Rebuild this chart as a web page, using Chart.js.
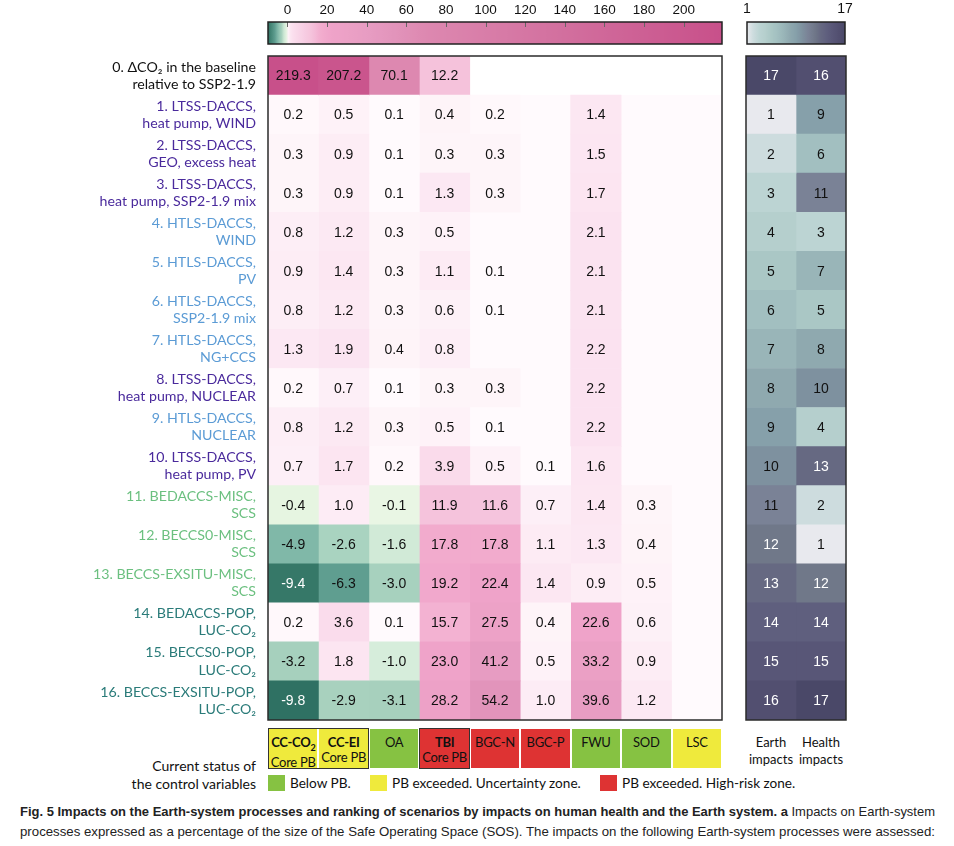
<!DOCTYPE html>
<html><head><meta charset="utf-8">
<script src="https://cdn.jsdelivr.net/npm/chart.js@4.4.1/dist/chart.umd.min.js"></script>
<style>
html,body{margin:0;padding:0;background:#fff;}
body{width:954px;height:846px;position:relative;overflow:hidden;font-family:Lato,"Noto Sans",sans-serif;color:#111;}
.abs{position:absolute;}
.box{position:absolute;box-sizing:border-box;text-align:center;font-size:13px;letter-spacing:-0.3px;line-height:15px;padding-top:6px;color:#111;white-space:nowrap;}
.core{position:absolute;box-sizing:border-box;border:1.5px solid #333;}
.leg{position:absolute;font-size:14px;line-height:16px;}
.sq{position:absolute;width:17px;height:16px;}
.cap{position:absolute;left:20px;font-family:"Liberation Sans",Arial,sans-serif;font-size:13.5px;white-space:nowrap;color:#222;transform-origin:0 0;display:inline-block;}
</style></head><body>
<div class="abs" style="left:0;top:0;width:730px;height:722px"><canvas id="heat"></canvas></div>
<div class="abs" style="left:736px;top:0;width:120px;height:722px"><canvas id="rank"></canvas></div>
<div class="abs" style="left:0;top:0;width:730px;height:50px"><canvas id="cbar"></canvas></div>
<div class="abs" style="left:730px;top:0;width:130px;height:50px"><canvas id="rbar"></canvas></div>
<div id="status"></div>
<div class="leg" style="left:60px;top:757px;width:196px;text-align:right;line-height:18px;">Current status of<br>the control variables</div>
<div class="leg" style="left:746px;top:734px;width:100px;font-size:13px;line-height:17px;"><span style="position:absolute;left:0;width:50px;text-align:center">Earth<br>impacts</span><span style="position:absolute;left:50px;width:50px;text-align:center">Health<br>impacts</span></div>
<div id="legend"></div>
<div class="cap" id="cap1" style="top:804px;"><b>Fig. 5 Impacts on the Earth-system processes and ranking of scenarios by impacts on human health and the Earth system. a</b> Impacts on Earth-system</div>
<div class="cap" id="cap2" style="top:824px;">processes expressed as a percentage of the size of the Safe Operating Space (SOS). The impacts on the following Earth-system processes were assessed:</div>
<script>
// ---------- DATA ----------
const columns = ['CC-CO2', 'CC-EI', 'OA', 'TBI', 'BGC-N', 'BGC-P', 'FWU', 'SOD', 'LSC'];
const rowLabels = [
  ['0. \u0394CO\u2082 in the baseline', 'relative to SSP2-1.9'],
  ['1. LTSS-DACCS,', 'heat pump, WIND'],
  ['2. LTSS-DACCS,', 'GEO, excess heat'],
  ['3. LTSS-DACCS,', 'heat pump, SSP2-1.9 mix'],
  ['4. HTLS-DACCS,', 'WIND'],
  ['5. HTLS-DACCS,', 'PV'],
  ['6. HTLS-DACCS,', 'SSP2-1.9 mix'],
  ['7. HTLS-DACCS,', 'NG+CCS'],
  ['8. LTSS-DACCS,', 'heat pump, NUCLEAR'],
  ['9. HTLS-DACCS,', 'NUCLEAR'],
  ['10. LTSS-DACCS,', 'heat pump, PV'],
  ['11. BEDACCS-MISC,', 'SCS'],
  ['12. BECCS0-MISC,', 'SCS'],
  ['13. BECCS-EXSITU-MISC,', 'SCS'],
  ['14. BEDACCS-POP,', 'LUC-CO\u2082'],
  ['15. BECCS0-POP,', 'LUC-CO\u2082'],
  ['16. BECCS-EXSITU-POP,', 'LUC-CO\u2082']
];
const rowGroup = ['base','lt','lt','lt','ht','ht','ht','ht','lt','ht','lt','bm','bm','bm','bp','bp','bp'];

const ccCO2 = [219.3, 0.2, 0.3, 0.3, 0.8, 0.9, 0.8, 1.3, 0.2, 0.8, 0.7, -0.4, -4.9, -9.4, 0.2, -3.2, -9.8];
const ccEI  = [207.2, 0.5, 0.9, 0.9, 1.2, 1.4, 1.2, 1.9, 0.7, 1.2, 1.7, 1.0, -2.6, -6.3, 3.6, 1.8, -2.9];
const oa    = [70.1, 0.1, 0.1, 0.1, 0.3, 0.3, 0.3, 0.4, 0.1, 0.3, 0.2, -0.1, -1.6, -3.0, 0.1, -1.0, -3.1];
const tbi   = [12.2, 0.4, 0.3, 1.3, 0.5, 1.1, 0.6, 0.8, 0.3, 0.5, 3.9, 11.9, 17.8, 19.2, 15.7, 23.0, 28.2];
const bgcN  = [null, 0.2, 0.3, 0.3, null, 0.1, 0.1, null, 0.3, 0.1, 0.5, 11.6, 17.8, 22.4, 27.5, 41.2, 54.2];
const bgcP  = [null, null, null, null, null, null, null, null, null, null, 0.1, 0.7, 1.1, 1.4, 0.4, 0.5, 1.0];
const fwu   = [null, 1.4, 1.5, 1.7, 2.1, 2.1, 2.1, 2.2, 2.2, 2.2, 1.6, 1.4, 1.3, 0.9, 22.6, 33.2, 39.6];
const sod   = [null, null, null, null, null, null, null, null, null, null, null, 0.3, 0.4, 0.5, 0.6, 0.9, 1.2];
const lsc   = [null, null, null, null, null, null, null, null, null, null, null, null, null, null, null, null, null];

const earthRank  = [17, 1, 2, 3, 4, 5, 6, 7, 8, 9, 10, 11, 12, 13, 14, 15, 16];
const healthRank = [16, 9, 6, 11, 3, 7, 5, 8, 10, 4, 13, 2, 1, 12, 14, 15, 17];
const rankColumns = ['Earth impacts', 'Health impacts'];

const colorbarTicks = [0, 20, 40, 60, 80, 100, 120, 140, 160, 180, 200];
const colorbarRange = [-9.8, 219.3];
const rankTicks = [1, 17];

const columnStatus = ['yellow', 'yellow', 'green', 'red', 'red', 'red', 'green', 'green', 'yellow'];
const columnIsCore = [true, true, false, true, false, false, false, false, false];
const legendItems = [['green', 'Below PB.'], ['yellow', 'PB exceeded. Uncertainty zone.'], ['red', 'PB exceeded. High-risk zone.']];

// ---------- STYLE ----------
const groupColors = {base:'#111111', lt:'#4a2a9c', ht:'#5b9bd5', bm:'#6cc080', bp:'#2a7b79'};
const statusColors = {green:'#86c242', yellow:'#efea3c', red:'#de3333'};
const valueStops = [
  [-9.8,'#2f7163'],[-9.4,'#367868'],[-6.3,'#5f9e90'],[-4.9,'#80b8a8'],[-3.2,'#a6d0bd'],[-2.5,'#aad3c0'],
  [-1.7,'#d0e9d6'],[-1.0,'#d6eddb'],[-0.5,'#e5f4e0'],[-0.1,'#e9f6e4'],[0,'#ffffff'],
  [0.1,'#fffafd'],[0.3,'#fef5f9'],[0.8,'#fdeef6'],[1.4,'#fce7f2'],[2.2,'#fbe2f0'],[3.6,'#fadcec'],
  [12,'#f5c3dc'],[17,'#f2acce'],[22,'#efa3c9'],[30,'#eca1c6'],[41,'#e79cc2'],[54,'#e294bb'],
  [70,'#dd88b0'],[140,'#d26f9e'],[219.3,'#c8508a']
];
const rankStops = [
  [1,'#e8e9ee'],[2,'#cddcde'],[3,'#bcd4d3'],[4,'#b5cfcd'],[5,'#aac7c5'],[6,'#a2bfc0'],[7,'#99b5b8'],
  [8,'#8fa9af'],[9,'#86a0aa'],[10,'#7e919f'],[11,'#7a8296'],[12,'#707889'],[13,'#666982'],
  [14,'#5f5f7e'],[15,'#585677'],[16,'#524f70'],[17,'#4a4868']
];
function hex2rgb(h){return [parseInt(h.substr(1,2),16),parseInt(h.substr(3,2),16),parseInt(h.substr(5,2),16)];}
function interp(stops, v){
  if (v <= stops[0][0]) return stops[0][1];
  for (let i=1;i<stops.length;i++){
    if (v <= stops[i][0]){
      const a=stops[i-1], b=stops[i]; const t=(v-a[0])/(b[0]-a[0]);
      const ca=hex2rgb(a[1]), cb=hex2rgb(b[1]);
      return 'rgb('+ca.map((x,k)=>Math.round(x+(cb[k]-x)*t)).join(',')+')';
    }
  }
  return stops[stops.length-1][1];
}
const valueColor = v => interp(valueStops, v);
const rankColor = r => interp(rankStops, r);

const cellFont = '14px "Liberation Sans", Arial, sans-serif';

const cellLabelPlugin = {
  id:'cellLabels',
  afterDatasetsDraw(chart){
    const ctx = chart.ctx;
    ctx.save();
    ctx.font = cellFont; ctx.textAlign='center'; ctx.textBaseline='middle';
    chart.data.datasets.forEach((ds, di)=>{
      const meta = chart.getDatasetMeta(di);
      ds.values.forEach((v, i)=>{
        if (v === null) return;
        const el = meta.data[i];
        const p = el.getProps(['x','y','base'], true);
        ctx.fillStyle = ds.textColor(v);
        ctx.fillText(ds.fmt(v), (p.x+p.base)/2, p.y+1);
      });
    });
    ctx.restore();
  }
};
const frameBg = {
  id:'frameBg',
  beforeDatasetsDraw(chart, args, opts){
    const a = chart.chartArea, ctx = chart.ctx;
    ctx.save(); ctx.fillStyle = opts.color || '#fff';
    ctx.fillRect(a.left, a.top, a.right-a.left, a.bottom-a.top);
    if (opts.firstRow){
      const y = chart.scales.y;
      const h = (y.getPixelForTick(1) - y.getPixelForTick(0));
      ctx.fillStyle = opts.firstRow;
      ctx.fillRect(a.left, a.top, a.right-a.left, h);
    }
    ctx.restore();
  },
  afterDraw(chart){
    const a = chart.chartArea, ctx = chart.ctx;
    ctx.save(); ctx.strokeStyle='#2b2b2b'; ctx.lineWidth=1.5;
    ctx.strokeRect(a.left, a.top, a.right-a.left, a.bottom-a.top);
    ctx.restore();
  }
};

// ---------- HEATMAP ----------
const heatValues = [ccCO2, ccEI, oa, tbi, bgcN, bgcP, fwu, sod, lsc];
const heat = new Chart(document.getElementById('heat'), {
  type:'bar',
  data:{
    labels: rowLabels,
    datasets: heatValues.map((vals, c)=>({
      label: columns[c],
      data: vals.map(v => v === null ? null : [c-0.5, c+0.5]),
      values: vals,
      fmt: v => v.toFixed(1),
      textColor: v => v < -8 ? '#ffffff' : '#111111',
      backgroundColor: vals.map(v => v === null ? 'rgba(0,0,0,0)' : valueColor(v)),
      borderWidth:0, barPercentage:1, categoryPercentage:1, grouped:false
    }))
  },
  options:{
    indexAxis:'y', responsive:true, maintainAspectRatio:false, animation:false,
    layout:{padding:{top:56, bottom:2, right:8, left:0}},
    plugins:{legend:{display:false}, tooltip:{enabled:false}, frameBg:{color:'#fffafd', firstRow:'#ffffff'}},
    scales:{
      x:{type:'linear', min:-0.5, max:8.5, display:false},
      y:{type:'category', grid:{display:false, drawTicks:false}, border:{display:false},
         ticks:{color: ctx => groupColors[rowGroup[ctx.index]], font:{family:'Lato', size:14.2, lineHeight:1.2}, padding:12, autoSkip:false},
         afterFit: a => { a.width = 268; a.paddingTop = 0; a.paddingBottom = 0; }}
    }
  },
  plugins:[frameBg, cellLabelPlugin]
});

// ---------- RANK PANEL ----------
const rankValues = [earthRank, healthRank];
new Chart(document.getElementById('rank'), {
  type:'bar',
  data:{
    labels: rowLabels,
    datasets: rankValues.map((vals, c)=>({
      label: rankColumns[c],
      data: vals.map(() => [c-0.5, c+0.5]),
      values: vals,
      fmt: v => String(v),
      textColor: v => v >= 12 ? '#ffffff' : '#111111',
      backgroundColor: vals.map(rankColor),
      borderWidth:0, barPercentage:1, categoryPercentage:1, grouped:false
    }))
  },
  options:{
    indexAxis:'y', responsive:true, maintainAspectRatio:false, animation:false,
    layout:{padding:{top:56, bottom:2, right:10, left:10}},
    plugins:{legend:{display:false}, tooltip:{enabled:false}, frameBg:{color:'#ffffff'}},
    scales:{
      x:{type:'linear', min:-0.5, max:1.5, display:false},
      y:{type:'category', display:false}
    }
  },
  plugins:[frameBg, cellLabelPlugin]
});

// ---------- COLORBARS ----------
const gradientBar = {
  id:'gradientBar',
  beforeDraw(chart, args, opts){
    const a = chart.chartArea, ctx = chart.ctx, x = chart.scales.x;
    const g = ctx.createLinearGradient(a.left, 0, a.right, 0);
    const N = 200;
    for (let i=0;i<=N;i++){
      const v = x.min + (x.max - x.min)*i/N;
      g.addColorStop(i/N, opts.fn(v));
    }
    ctx.save();
    ctx.fillStyle = g; ctx.fillRect(a.left, a.top, a.right-a.left, a.bottom-a.top);
    if (opts.marks){
      ctx.strokeStyle='#666'; ctx.lineWidth=1;
      x.ticks.forEach(t=>{ const px=Math.round(x.getPixelForValue(t.value))+0.5; ctx.beginPath(); ctx.moveTo(px,a.top); ctx.lineTo(px,a.top+5); ctx.stroke(); });
    }
    ctx.strokeStyle='#222'; ctx.lineWidth=1.5;
    ctx.strokeRect(a.left, a.top, a.right-a.left, a.bottom-a.top);
    ctx.restore();
  }
};
function makeBar(id, range, ticks, fn, pad, marks, fsize){
  return new Chart(document.getElementById(id), {
    type:'scatter', data:{datasets:[]},
    options:{
      responsive:true, maintainAspectRatio:false, animation:false,
      layout:{padding:pad},
      plugins:{legend:{display:false}, tooltip:{enabled:false}, gradientBar:{fn, marks}},
      scales:{
        x:{type:'linear', position:'top', min:range[0], max:range[1], grid:{display:false, drawTicks:false}, border:{display:false},
           afterBuildTicks: a => { a.ticks = ticks.map(v => ({value:v})); },
           ticks:{font:{family:'"Liberation Sans", Arial, sans-serif', size:fsize}, color:'#111', padding:4, maxRotation:0, autoSkip:false},
           afterFit: a => { a.height = 22; }},
        y:{display:false, min:0, max:1}
      }
    },
    plugins:[gradientBar]
  });
}
makeBar('cbar', colorbarRange, colorbarTicks, valueColor, {left:268, right:8, top:0, bottom:6}, true, 13.5);
makeBar('rbar', [rankTicks[0], rankTicks[rankTicks.length-1]], rankTicks, rankColor, {left:17, right:15, top:0, bottom:6}, false, 14);

// ---------- STATUS ROW & LEGEND ----------
const xs = heat.scales.x;
const statusDiv = document.getElementById('status');
const names = {'CC-CO2':'CC-CO<sub style="font-size:9px">2</sub>'};
let html = '';
columns.forEach((c, i)=>{
  const l = xs.getPixelForValue(i-0.5), r = xs.getPixelForValue(i+0.5);
  const bold = columnIsCore[i] ? 'font-weight:bold;' : '';
  const second = columnIsCore[i] ? '<br><span style="font-weight:normal">Core PB</span>' : '';
  html += `<div class="box" style="left:${l+1}px;top:729px;width:${r-l-2}px;height:39px;background:${statusColors[columnStatus[i]]};${bold}">${names[c]||c}${second}</div>`;
});
let i = 0;
while (i < columns.length){
  if (columnIsCore[i]){
    let j = i; while (j+1 < columns.length && columnIsCore[j+1]) j++;
    const l = xs.getPixelForValue(i-0.5), r = xs.getPixelForValue(j+0.5);
    html += `<div class="core" style="left:${l}px;top:728px;width:${r-l}px;height:41px;"></div>`;
    i = j+1;
  } else i++;
}
statusDiv.innerHTML = html;
const legX = [268, 370, 600];
document.getElementById('legend').innerHTML = legendItems.map((it, k)=>
  `<div class="sq" style="left:${legX[k]}px;top:775px;background:${statusColors[it[0]]}"></div><div class="leg" style="left:${legX[k]+22}px;top:775px;font-size:13.6px">${it[1]}</div>`).join('');

// caption: fit each line to the column width (condensed face not installed)
['cap1','cap2'].forEach(id=>{
  const el = document.getElementById(id);
  const w = el.getBoundingClientRect().width;
  el.style.transform = 'scaleX(' + (915 / w) + ')';
});
</script>
</body></html>
